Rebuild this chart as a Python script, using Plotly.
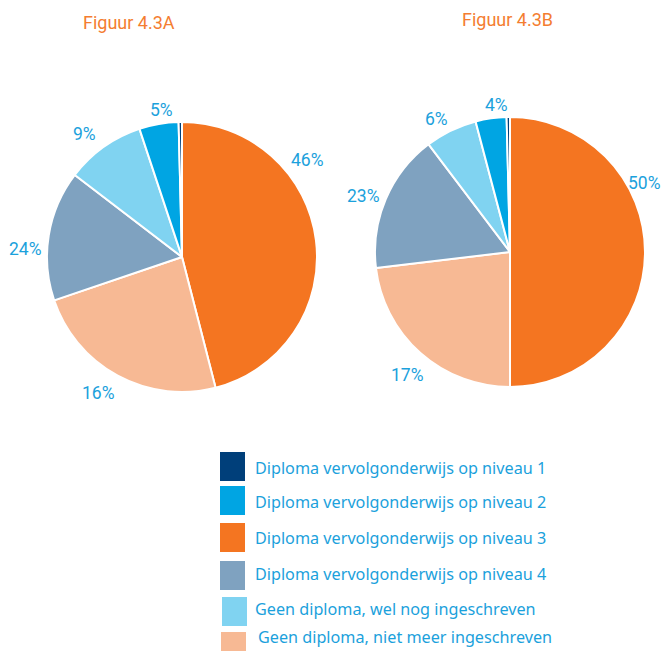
import plotly.graph_objects as go

# page is drawn with an 8px body margin; figure sized to fit the window
OFF = 8
WF, HF = 653, 643

categories = [
    "Diploma vervolgonderwijs op niveau 1",
    "Diploma vervolgonderwijs op niveau 2",
    "Diploma vervolgonderwijs op niveau 3",
    "Diploma vervolgonderwijs op niveau 4",
    "Geen diploma, wel nog ingeschreven",
    "Geen diploma, niet meer ingeschreven",
]
colors = ["#003f7a", "#00a5e3", "#f47521", "#7fa2c0", "#80d3f1", "#f7b994"]

slice_order = [2, 5, 3, 4, 1, 0]

values_a = [46.0, 23.8, 15.6, 9.5, 4.7, 0.4]
labels_a = ["46%", "16%", "24%", "9%", "5%", ""]
values_b = [50.0, 23.1, 16.6, 6.2, 3.7, 0.4]
labels_b = ["50%", "17%", "23%", "6%", "4%", ""]

titles = ["Figuur 4.3A", "Figuur 4.3B"]

# layout: label positions (screen px) for each slice's printed value
label_pos_a = [(307, 160), (98, 393), (25, 249), (84, 134), (161, 110), None]
label_pos_b = [(644, 183), (407, 375), (363, 196), (437, 119), (496, 105), None]

TXT = "#1ba1dc"
ORANGE = "#f47d30"
NARROW = "Roboto, Liberation Sans, sans-serif"
BODY = "Noto Sans, Open Sans, sans-serif"

def px_x(v):
    return (v - OFF) / WF

def px_y(v):
    return 1 - (v - OFF) / HF

fig = go.Figure()
annotations = []
shapes = []

doms = [(47, 317, 122, 392), (375, 645, 117, 387)]
for vals, txt, pos, (x0, x1, y0, y1) in [
    (values_a, labels_a, label_pos_a, doms[0]),
    (values_b, labels_b, label_pos_b, doms[1]),
]:
    fig.add_trace(go.Pie(
        labels=[categories[i] for i in slice_order],
        values=vals,
        textinfo="none",
        marker=dict(colors=[colors[i] for i in slice_order],
                    line=dict(color="white", width=2)),
        sort=False,
        direction="clockwise",
        rotation=0,
        showlegend=False,
        hoverinfo="label+percent",
        domain=dict(x=[px_x(x0), px_x(x1)], y=[px_y(y1), px_y(y0)]),
    ))
    for t, p in zip(txt, pos):
        if t and p:
            annotations.append(dict(text=t, x=px_x(p[0]), y=px_y(p[1]), xref="paper", yref="paper",
                                    showarrow=False, xanchor="center", yanchor="middle",
                                    font=dict(color=TXT, size=17.5, family=NARROW)))

annotations.append(dict(text=titles[0], x=px_x(129), y=px_y(23), xref="paper", yref="paper",
                        showarrow=False, xanchor="center", yanchor="middle",
                        font=dict(color=ORANGE, size=18, family=NARROW)))
annotations.append(dict(text=titles[1], x=px_x(507), y=px_y(19), xref="paper", yref="paper",
                        showarrow=False, xanchor="center", yanchor="middle",
                        font=dict(color=ORANGE, size=18, family=NARROW)))

rows = [
    (220, 452, 253, 468),
    (220, 486, 253, 502),
    (220, 523, 253, 538),
    (220, 561, 253, 574),
    (222, 597, 253, 609),
    (221, 632, 256, 637),
]
for i, (sx, sy, tx, ty) in enumerate(rows):
    shapes.append(dict(type="rect", xref="paper", yref="paper",
                       x0=px_x(sx), x1=px_x(sx + 25), y0=px_y(sy + 29), y1=px_y(sy),
                       fillcolor=colors[i], line=dict(width=0)))
    annotations.append(dict(text=categories[i], x=px_x(tx), y=px_y(ty), xref="paper", yref="paper",
                            showarrow=False, xanchor="left", yanchor="middle",
                            font=dict(color=TXT, size=16.2, family=BODY)))

fig.update_layout(
    width=WF, height=HF,
    margin=dict(l=0, r=0, t=0, b=0),
    paper_bgcolor="white", plot_bgcolor="white",
    annotations=annotations, shapes=shapes,
)

fig.write_html("out.html")
